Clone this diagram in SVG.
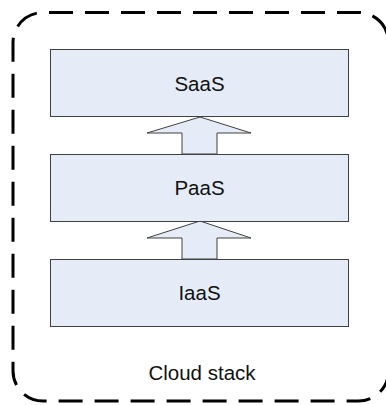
<svg xmlns="http://www.w3.org/2000/svg" width="386" height="405" viewBox="0 0 386 405">
<style>
.box{fill:#E6ECF7;stroke:#404040;stroke-width:1}
.arrow{fill:#E6ECF7;stroke:#404040;stroke-width:1;stroke-linejoin:miter}
.lbl{font-family:"Liberation Sans",Arial,sans-serif;font-size:20.5px;fill:#111;text-anchor:middle}
</style>
<rect width="386" height="405" fill="#fff"/>
<g id="cloud-stack">
<rect x="13" y="12.5" width="375.5" height="388.5" rx="30" ry="30" fill="none" stroke="#000" stroke-width="3" stroke-dasharray="24,12" stroke-dashoffset="-6"/>
<text class="lbl" x="202" y="380">Cloud stack</text>
</g>
<g id="connectors">
<path class="arrow" d="M182,154 V133 H147 L200,117 L251,133 H217 V154 Z"/>
<path class="arrow" d="M182,259 V238 H147 L200,221 L251,238 H217 V259 Z"/>
</g>
<g id="saas">
<rect class="box" x="50.5" y="49.5" width="298" height="67"/>
<text class="lbl" x="199.5" y="91">SaaS</text>
</g>
<g id="paas">
<rect class="box" x="50.5" y="154.5" width="298" height="67"/>
<text class="lbl" x="199.5" y="195">PaaS</text>
</g>
<g id="iaas">
<rect class="box" x="50.5" y="259.5" width="298" height="67"/>
<text class="lbl" x="199.5" y="300">IaaS</text>
</g>
</svg>
